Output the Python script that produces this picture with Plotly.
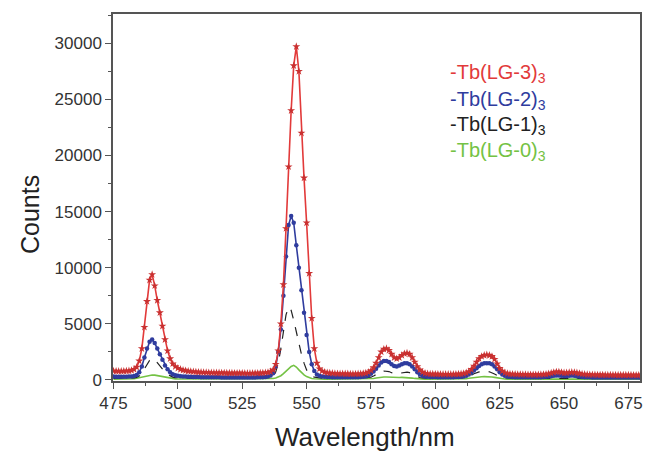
import plotly.graph_objects as go

wavelength = list(range(475, 681))

tb_lg3 = [
    800, 790, 780, 780, 790, 800, 820, 860, 950, 1150,
    1700, 2800, 4700, 7000, 8900, 9400, 8400, 7100, 6000, 4800,
    3600, 2600, 1900, 1450, 1200, 1050, 950, 880, 830, 790,
    760, 740, 720, 700, 690, 680, 670, 660, 650, 650,
    640, 640, 630, 630, 620, 620, 620, 610, 610, 610,
    610, 600, 600, 600, 600, 610, 610, 620, 630, 650,
    680, 750, 900, 1400, 2600, 5000, 8500, 13500, 19000, 24000,
    28000, 29700, 27500, 22000, 18000, 14000, 9500, 5500, 2800, 1500,
    1000, 800, 700, 650, 620, 600, 580, 570, 560, 560,
    550, 550, 540, 540, 540, 550, 560, 580, 620, 700,
    850, 1100, 1500, 2000, 2500, 2750, 2800, 2650, 2300, 2000,
    1900, 2000, 2200, 2350, 2400, 2300, 2000, 1600, 1200, 900,
    700, 600, 560, 540, 530, 520, 520, 510, 510, 510,
    510, 510, 510, 520, 530, 550, 580, 640, 750, 950,
    1250, 1600, 1900, 2100, 2200, 2250, 2200, 2100, 1850, 1450,
    1050, 800, 650, 580, 540, 520, 510, 500, 500, 490,
    490, 480, 480, 480, 480, 480, 490, 500, 520, 560,
    620, 680, 720, 720, 680, 640, 640, 670, 690, 680,
    640, 590, 540, 510, 490, 480, 470, 470, 460, 460,
    460, 450, 450, 450, 450, 440, 440, 440, 440, 440,
    440, 440, 430, 430, 430, 430,
]

tb_lg2 = [
    300, 290, 280, 280, 280, 290, 300, 320, 360, 450,
    700, 1200, 2000, 2800, 3400, 3600, 3300, 2800, 2300, 1800,
    1300, 950, 700, 520, 420, 370, 340, 320, 300, 290,
    280, 270, 260, 260, 250, 250, 250, 240, 240, 240,
    240, 240, 230, 230, 230, 230, 230, 230, 230, 230,
    230, 230, 230, 230, 230, 230, 240, 240, 250, 270,
    320, 400, 600, 1200, 2500, 4500, 7500, 11000, 13800, 14600,
    14000, 12000, 10000, 8000, 6000, 4000, 2500, 1400, 800, 500,
    380, 320, 290, 270, 260, 250, 250, 240, 240, 240,
    240, 240, 240, 240, 240, 250, 260, 280, 320, 400,
    550, 750, 1000, 1300, 1550, 1700, 1700, 1600, 1400, 1250,
    1200, 1300, 1400, 1500, 1500, 1400, 1200, 950, 700, 500,
    380, 320, 290, 270, 260, 260, 250, 250, 250, 250,
    250, 250, 250, 260, 270, 290, 320, 380, 480, 650,
    850, 1050, 1250, 1400, 1480, 1500, 1480, 1400, 1200, 950,
    700, 500, 380, 310, 280, 260, 250, 250, 240, 240,
    240, 240, 240, 240, 240, 240, 250, 260, 280, 300,
    340, 380, 400, 390, 370, 350, 360, 380, 390, 370,
    340, 300, 270, 250, 240, 240, 230, 230, 230, 230,
    230, 230, 230, 230, 220, 220, 220, 220, 220, 220,
    220, 220, 220, 220, 220, 220,
]

tb_lg1 = [
    150, 150, 150, 150, 150, 150, 160, 170, 190, 230,
    350, 600, 1000, 1400, 1750, 1900, 1800, 1550, 1250, 950,
    700, 500, 350, 260, 210, 190, 180, 170, 160, 160,
    150, 150, 150, 150, 150, 150, 150, 150, 150, 150,
    150, 150, 150, 150, 150, 150, 150, 150, 150, 150,
    150, 150, 150, 150, 150, 150, 150, 160, 160, 170,
    180, 220, 320, 700, 1500, 2800, 4300, 5800, 6500, 6200,
    5300, 4200, 3200, 2300, 1500, 900, 550, 350, 250, 200,
    170, 160, 160, 150, 150, 150, 150, 150, 150, 150,
    150, 150, 150, 150, 150, 150, 160, 170, 190, 220,
    250, 350, 500, 650, 750, 800, 800, 750, 650, 580,
    560, 600, 650, 700, 700, 650, 550, 420, 300, 220,
    180, 160, 150, 150, 150, 150, 150, 150, 150, 150,
    150, 150, 150, 150, 150, 160, 180, 220, 300, 420,
    550, 650, 720, 760, 780, 770, 730, 650, 530, 400,
    290, 220, 180, 160, 150, 150, 150, 150, 150, 150,
    150, 150, 150, 150, 150, 150, 150, 160, 170, 180,
    190, 200, 210, 200, 190, 180, 190, 200, 200, 190,
    180, 170, 160, 150, 150, 150, 150, 150, 150, 150,
    150, 150, 150, 150, 150, 150, 150, 150, 150, 150,
    150, 150, 150, 150, 150, 150,
]

tb_lg0 = [
    80, 80, 80, 80, 80, 80, 90, 100, 120, 150,
    200, 270, 340, 400, 440, 450, 430, 390, 340, 280,
    220, 170, 130, 110, 100, 90, 90, 80, 80, 80,
    80, 80, 80, 80, 80, 80, 80, 80, 80, 80,
    80, 80, 80, 80, 80, 80, 80, 80, 80, 80,
    80, 80, 80, 80, 80, 80, 80, 80, 80, 80,
    90, 100, 130, 180, 260, 380, 560, 780, 1000, 1200,
    1300, 1150, 900, 650, 450, 300, 200, 140, 110, 90,
    80, 80, 80, 80, 80, 80, 80, 80, 80, 80,
    80, 80, 80, 80, 80, 80, 80, 80, 90, 95,
    100, 130, 170, 210, 240, 260, 260, 240, 220, 210,
    210, 220, 230, 230, 220, 200, 170, 140, 110, 90,
    80, 80, 80, 80, 80, 80, 80, 80, 80, 80,
    80, 80, 80, 80, 80, 90, 100, 120, 150, 190,
    230, 260, 280, 290, 300, 300, 290, 270, 230, 180,
    140, 110, 90, 80, 80, 80, 80, 80, 80, 80,
    80, 80, 80, 80, 80, 80, 80, 80, 85, 90,
    95, 100, 105, 100, 95, 90, 95, 100, 100, 95,
    90, 85, 80, 80, 80, 80, 80, 80, 80, 80,
    80, 80, 80, 80, 80, 80, 80, 80, 80, 80,
    80, 80, 80, 80, 80, 80,
]

legend_labels = ["-Tb(LG-3)<sub>3</sub>", "-Tb(LG-2)<sub>3</sub>",
                 "-Tb(LG-1)<sub>3</sub>", "-Tb(LG-0)<sub>3</sub>"]
x_ticks = [475, 500, 525, 550, 575, 600, 625, 650, 675]
y_ticks = [0, 5000, 10000, 15000, 20000, 25000, 30000]

RED = "#e23a3a"
BLUE = "#2f3c9e"
BLACK = "#222222"
GREEN = "#74c244"
FONT = "Liberation Sans, Arial"

W, H = 646, 452
ML, MR, MT, MB = 113, 6, 14, 71
pw, ph = W - ML - MR, H - MT - MB


def px_to_paper(xp, yp):
    return (xp - ML) / pw, 1 - (yp - MT) / ph


fig = go.Figure()
fig.add_trace(go.Scatter(x=wavelength, y=tb_lg0, mode="lines",
                         line=dict(color=GREEN, width=1.6)))
fig.add_trace(go.Scatter(x=wavelength, y=tb_lg1, mode="lines",
                         line=dict(color=BLACK, width=1.2, dash="dash")))
fig.add_trace(go.Scatter(x=wavelength, y=tb_lg2, mode="lines+markers",
                         line=dict(color=BLUE, width=1.6),
                         marker=dict(symbol="circle", size=4.5, color=BLUE)))
fig.add_trace(go.Scatter(x=wavelength, y=tb_lg3, mode="lines+markers",
                         line=dict(color=RED, width=1.6),
                         marker=dict(symbol="star", size=6, color="#c93030")))

colors = [RED, BLUE, BLACK, GREEN]
rows_px = [73, 100, 125, 151]
for lab, c, yp in zip(legend_labels, colors, rows_px):
    ax, ay = px_to_paper(448, yp)
    fig.add_annotation(x=ax, y=ay, xref="paper", yref="paper",
                       xanchor="left", yanchor="middle", text=lab,
                       showarrow=False, font=dict(size=20, color=c, family=FONT))

# axis titles
tx, ty = px_to_paper(365, 437)
fig.add_annotation(x=tx, y=ty, xref="paper", yref="paper", text="Wavelength/nm",
                   showarrow=False, xanchor="center", yanchor="middle",
                   font=dict(size=26, color="#222222", family=FONT))
cx, cy = px_to_paper(30, 215)
fig.add_annotation(x=cx, y=cy, xref="paper", yref="paper", text="Counts",
                   showarrow=False, textangle=-90, xanchor="center", yanchor="middle",
                   font=dict(size=25, color="#222222", family=FONT))

axis_common = dict(showline=True, linecolor="#555555", linewidth=1.5,
                   mirror=True, showgrid=False, zeroline=False, automargin=False,
                   ticks="outside", tickcolor="#555555", ticklen=6, tickwidth=1.2,
                   tickfont=dict(size=17, color="#333333", family=FONT))

fig.update_xaxes(range=[474.8, 679.5], tickvals=x_ticks,
                 ticktext=[str(v) for v in x_ticks],
                 minor=dict(ticks="outside", ticklen=3, dtick=12.5, tick0=475,
                            tickcolor="#555555"),
                 **axis_common)
fig.update_yaxes(range=[-90, 32600], tickvals=y_ticks,
                 ticktext=[str(v) for v in y_ticks],
                 minor=dict(ticks="outside", ticklen=3, dtick=2500, tick0=0,
                            tickcolor="#555555"),
                 **axis_common)

fig.update_layout(width=W, height=H, showlegend=False,
                  margin=dict(l=ML, r=MR, t=MT, b=MB),
                  plot_bgcolor="white", paper_bgcolor="white")

fig.write_html("out.html", config={"displayModeBar": False},
               post_script="document.body.style.margin='0';document.body.style.padding='0';")
